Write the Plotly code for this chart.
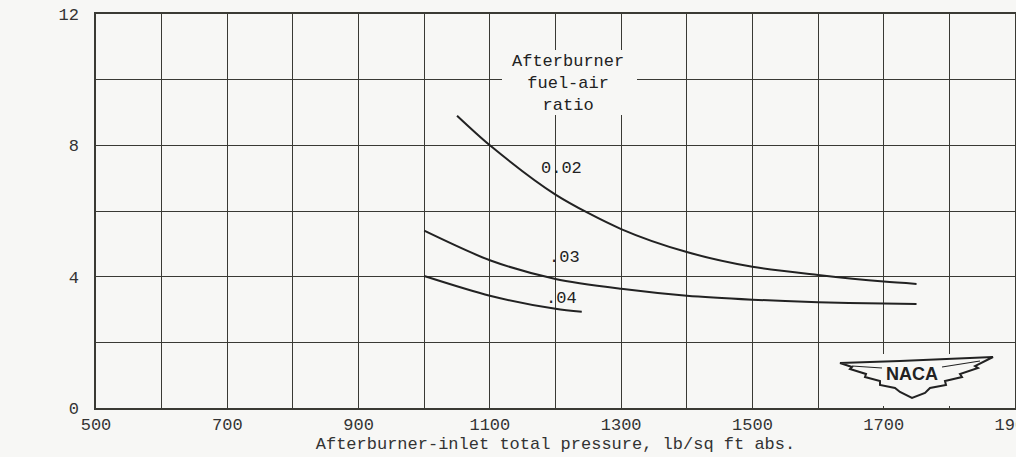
import plotly.graph_objects as go

# ---- data ----
fa02_x = [1050, 1100, 1200, 1300, 1400, 1500, 1600, 1700, 1750]
fa02_y = [8.9, 8.0, 6.5, 5.45, 4.75, 4.3, 4.05, 3.85, 3.78]
fa03_x = [1000, 1100, 1200, 1300, 1400, 1500, 1600, 1700, 1750]
fa03_y = [5.4, 4.5, 3.93, 3.63, 3.42, 3.3, 3.22, 3.18, 3.17]
fa04_x = [1000, 1100, 1200, 1240]
fa04_y = [4.02, 3.42, 3.02, 2.93]

x_ticks = list(range(500, 2000, 100))
x_labels = [str(v) if (v - 500) % 200 == 0 else "" for v in x_ticks]
y_ticks = list(range(0, 13, 2))
y_labels = [str(v) if v % 4 == 0 else "" for v in y_ticks]

BG = "#f7f7f5"
INK = "#222222"
GRID = "#3a3a34"
TXT = "#333333"
FONT = "Liberation Mono"
FS = 17

W, H = 1016, 457
ML, MR, MT, MB = 96, 1, 14, 49
PW, PH = W - ML - MR, H - MT - MB


def px_to_paper(px, py):
    return (px - ML) / PW, (H - MB - py) / PH


fig = go.Figure()
for xs, ys in [(fa02_x, fa02_y), (fa03_x, fa03_y), (fa04_x, fa04_y)]:
    fig.add_trace(go.Scatter(x=xs, y=ys, mode="lines",
                             line=dict(color=INK, width=2, shape="spline", smoothing=0.8),
                             hoverinfo="skip", showlegend=False))

shapes = []
# blank box behind the legend title
x0, y0 = px_to_paper(502, 115)
x1, y1 = px_to_paper(637, 50)
shapes.append(dict(type="rect", xref="paper", yref="paper", x0=x0, y0=y0, x1=x1, y1=y1,
                   fillcolor=BG, line=dict(width=0), layer="above"))
# blank area behind NACA logo
x0, y0 = px_to_paper(836, 406)
x1, y1 = px_to_paper(998, 354)
shapes.append(dict(type="rect", xref="paper", yref="paper", x0=x0, y0=y0, x1=x1, y1=y1,
                   fillcolor=BG, line=dict(width=0), layer="above"))

# NACA wing outline (decoration)
outer = [(840, 363), (900, 361), (993, 357), (975, 366), (978, 368), (960, 374), (962, 377),
         (945, 381), (946, 385), (930, 388), (925, 393), (912, 398), (900, 392), (895, 388),
         (880, 385), (880, 381), (865, 377), (866, 374), (850, 369), (852, 367)]
inner_l = [(852, 366), (882, 368)]
inner_r = [(942, 367), (980, 361)]


def path_from(pts, close=True):
    s = ""
    for i, (a, b) in enumerate(pts):
        xp, yp = px_to_paper(a, b)
        s += ("M" if i == 0 else "L") + f"{xp:.5f},{yp:.5f} "
    return s + ("Z" if close else "")


shapes.append(dict(type="path", xref="paper", yref="paper", path=path_from(outer),
                   fillcolor=BG, line=dict(color=INK, width=2), layer="above"))
for seg in (inner_l, inner_r):
    shapes.append(dict(type="path", xref="paper", yref="paper", path=path_from(seg, False),
                       line=dict(color=INK, width=1.2), layer="above"))

annotations = []
ax_, ay_ = px_to_paper(568, 84)
annotations.append(dict(xref="paper", yref="paper", x=ax_, y=ay_, showarrow=False,
                        xanchor="center", yanchor="middle",
                        text="Afterburner<br>fuel-air<br>ratio",
                        font=dict(family=FONT, size=FS, color=INK), align="center"))
for lbl, xx, yy in [("0.02", 1209, 7.3), (".03", 1214, 4.57), (".04", 1209, 3.35)]:
    annotations.append(dict(x=xx, y=yy, showarrow=False, text=lbl,
                            xanchor="center", yanchor="middle",
                            font=dict(family=FONT, size=FS, color=INK)))
nx, ny = px_to_paper(912, 374)
annotations.append(dict(xref="paper", yref="paper", x=nx, y=ny, showarrow=False, text="<b>NACA</b>",
                        xanchor="center", yanchor="middle",
                        font=dict(family="Liberation Sans", size=18, color=INK)))

fig.update_layout(
    width=W, height=H,
    margin=dict(l=ML, r=MR, t=MT, b=MB, autoexpand=False),
    paper_bgcolor=BG, plot_bgcolor=BG,
    shapes=shapes, annotations=annotations,
    font=dict(family=FONT, size=FS, color=TXT),
    xaxis=dict(range=[500, 1900], tickmode="array", tickvals=x_ticks, ticktext=x_labels,
               showgrid=True, gridcolor=GRID, gridwidth=1, zeroline=False,
               showline=True, linecolor=GRID, linewidth=1.5, mirror=True,
               ticks="", ticklabelstandoff=0, automargin=False, ticklabeloverflow="allow",
               tickfont=dict(family=FONT, size=FS, color=TXT),
               title=dict(text="Afterburner-inlet total pressure, lb/sq ft abs.",
                          font=dict(family=FONT, size=FS, color=TXT), standoff=0)),
    yaxis=dict(range=[0, 12], tickmode="array", tickvals=y_ticks, ticktext=y_labels,
               showgrid=True, gridcolor=GRID, gridwidth=1, zeroline=False,
               showline=True, linecolor=GRID, linewidth=1.5, mirror=True,
               ticks="", ticklabelstandoff=12, automargin=False, ticklabeloverflow="allow",
               tickfont=dict(family=FONT, size=FS, color=TXT)),
)

fig.write_html("out.html", config={"displayModeBar": False},
               post_script="document.body.style.margin='0px';document.body.style.overflow='hidden';")
